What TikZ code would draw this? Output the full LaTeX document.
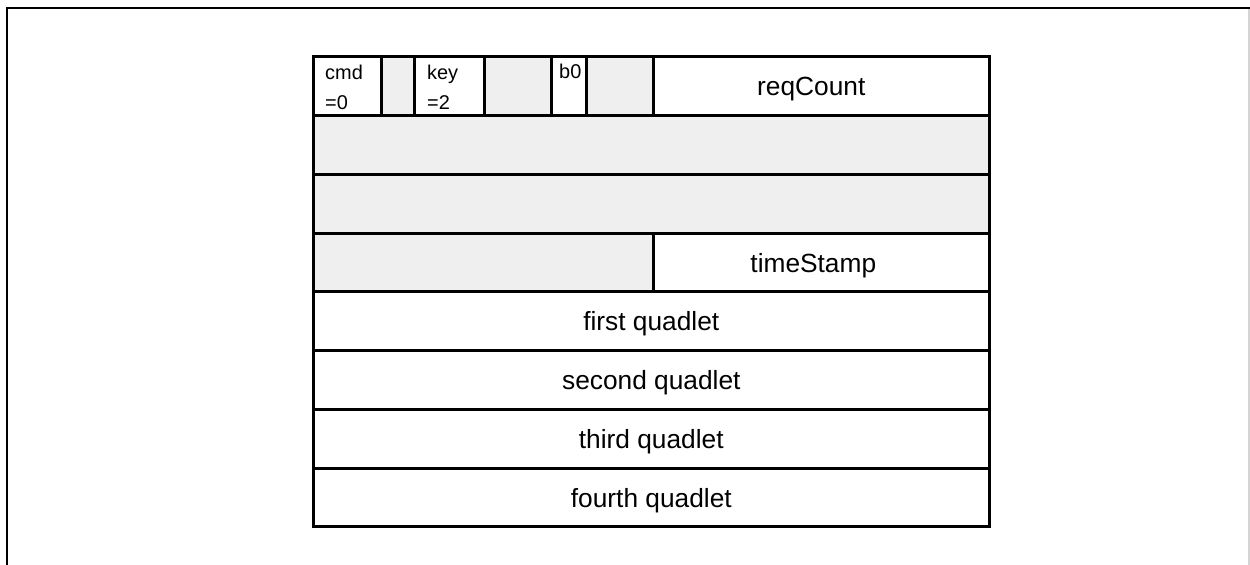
\documentclass[tikz,border=0pt]{standalone}
\usepackage{fontspec}
\setmainfont{Liberation Sans}
\definecolor{cellgray}{HTML}{EFEFEF}
\definecolor{edgegray}{HTML}{D4D4D4}
\tikzset{
  cell/.style={draw=black, line width=2.6bp, inner sep=0pt, anchor=north west, fill=white},
  graycell/.style={cell, fill=cellgray},
  small/.style={inner sep=0pt, anchor=base west, font=\fontsize{20pt}{24pt}\selectfont},
  big/.style={inner sep=0pt, yshift=-3bp, font=\fontsize{26.4pt}{30pt}\selectfont},
}
\begin{document}
\begin{tikzpicture}[x=1bp,y=-1bp]
\useasboundingbox (0,0) rectangle (1250,565);
% outer frame
\coordinate (fbl) at (7,565);
\coordinate (ftl) at (7,8);
\coordinate (ftr) at (1250,8);
\coordinate (frt) at (1249,9);
\coordinate (frb) at (1249,565);
\draw[line width=2.6bp] (fbl) -- (ftl) -- (ftr);
\draw[edgegray, line width=1.5bp] (frt) -- (frb);
% row 1
\node[cell, minimum width=68bp, minimum height=59bp] (cmd) at (312,55) {};
\node[graycell, minimum width=33bp, minimum height=59bp] (r1) at (380,55) {};
\node[cell, minimum width=70bp, minimum height=59bp] (key) at (413,55) {};
\node[graycell, minimum width=67bp, minimum height=59bp] (r2) at (483,55) {};
\node[cell, minimum width=35bp, minimum height=59bp] (bzero) at (550,55) {};
\node[graycell, minimum width=67bp, minimum height=59bp] (r3) at (585,55) {};
\node[cell, minimum width=336bp, minimum height=59bp] (req) at (652,55) {};
% rows 2-3
\node[graycell, minimum width=676bp, minimum height=59bp] (row2) at (312,114) {};
\node[graycell, minimum width=676bp, minimum height=59bp] (row3) at (312,173) {};
% row 4
\node[graycell, minimum width=340bp, minimum height=58bp] (r4) at (312,232) {};
\node[cell, minimum width=336bp, minimum height=58bp] (ts) at (652,232) {};
% rows 5-8
\node[cell, minimum width=676bp, minimum height=59bp] (q1) at (312,290) {};
\node[cell, minimum width=676bp, minimum height=59bp] (q2) at (312,349) {};
\node[cell, minimum width=676bp, minimum height=59bp] (q3) at (312,408) {};
\node[cell, minimum width=676bp, minimum height=58bp] (q4) at (312,467) {};
% texts
\node[big] (reqT) at ([xshift=-10bp]req.center) {reqCount};
\node[big] (tsT) at ([xshift=-8bp]ts.center) {timeStamp};
\node[big] (q1T) at (q1.center) {first quadlet};
\node[big] (q2T) at (q2.center) {second quadlet};
\node[big] (q3T) at (q3.center) {third quadlet};
\node[big] (q4T) at (q4.center) {fourth quadlet};
\node[small] (cmdA) at (325,80) {cmd};
\node[small] (cmdB) at (325,110) {=0};
\node[small] (keyA) at (427,80) {key};
\node[small] (keyB) at (427,110) {=2};
\node[small] (bzeroA) at (559,79) {b0};
\end{tikzpicture}
\end{document}
